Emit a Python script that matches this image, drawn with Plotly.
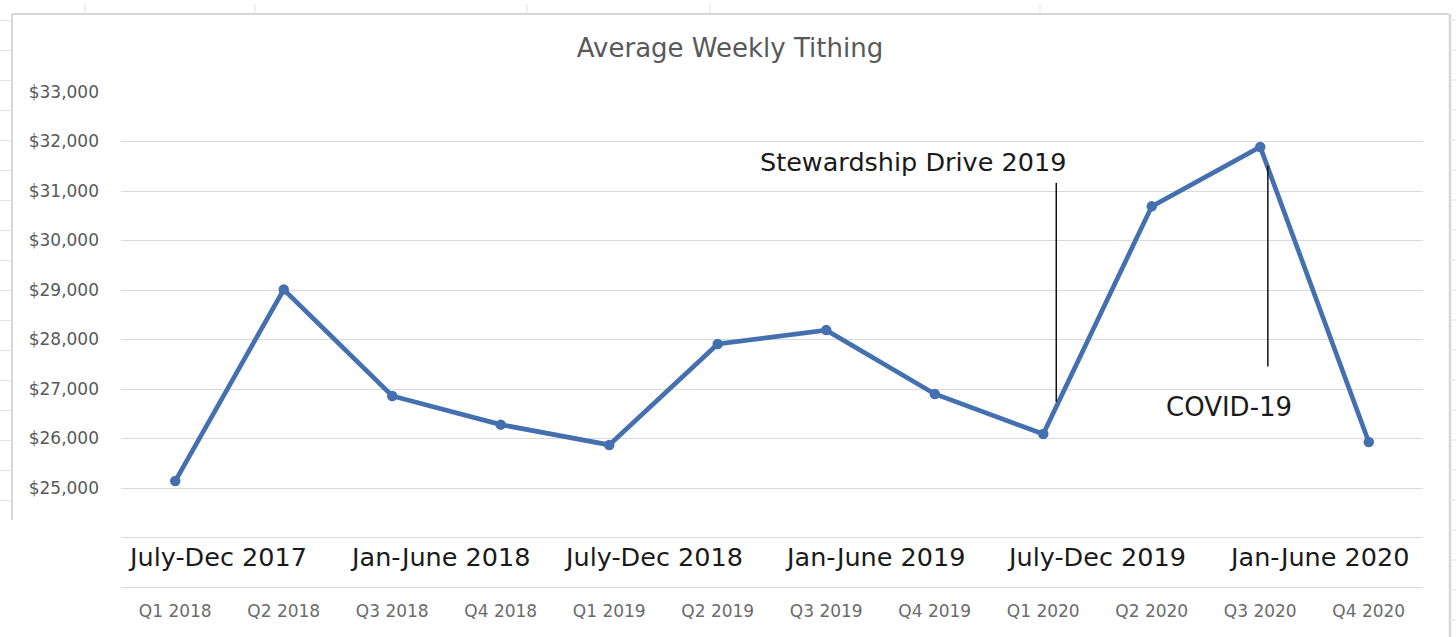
import plotly.graph_objects as go

# ---- data ----
quarters = ["Q1 2018", "Q2 2018", "Q3 2018", "Q4 2018", "Q1 2019", "Q2 2019",
            "Q3 2019", "Q4 2019", "Q1 2020", "Q2 2020", "Q3 2020", "Q4 2020"]
tithing = [25140, 29010, 26860, 26280, 25870, 27910,
           28190, 26900, 26090, 30690, 31890, 25930]
half_labels = ["July-Dec 2017", "Jan-June 2018", "July-Dec 2018",
               "Jan-June 2019", "July-Dec 2019", "Jan-June 2020"]
y_ticks = [24000, 25000, 26000, 27000, 28000, 29000, 30000, 31000, 32000, 33000]
y_ticktext = [""] + ["${:,}".format(v) for v in y_ticks[1:]]

# ---- layout helpers (positions) ----
L, R, T, B = 121, 1423, 92, 587
W, H = 1456, 637
def px(x):
    return (x - L) / (R - L)
def py(y):
    return (B - y) / (B - T)

half_label_x = [0.39, 2.44, 4.41, 6.45, 8.49, 10.54]

FONT = "DejaVu Sans, sans-serif"
LINE_COLOR = "#4570B0"

fig = go.Figure()
fig.add_trace(go.Scatter(
    x=quarters, y=tithing, mode="lines+markers",
    line=dict(color=LINE_COLOR, width=4.7),
    marker=dict(color=LINE_COLOR, size=10.5),
    hoverinfo="x+y", showlegend=False,
))

GRID = "#d9d9d9"
fig.update_layout(
    width=W, height=H,
    margin=dict(l=L, r=W - R, t=T, b=H - B),
    paper_bgcolor="white", plot_bgcolor="white",
    font=dict(family=FONT, color="#595959"),
    title=dict(text="Average Weekly Tithing", x=(730) / W, xanchor="center",
               y=1 - 48 / H, yanchor="middle",
               font=dict(size=26, color="#595959", family=FONT)),
    xaxis=dict(type="category", range=[-0.5, 11.5], showgrid=False,
               showline=True, linecolor=GRID, linewidth=1.3, ticks="",
               tickfont=dict(size=17, color="#6b6b6b"), ticklabelstandoff=8,
               zeroline=False, fixedrange=True),
    yaxis=dict(range=[23000, 33000], tickvals=y_ticks, ticktext=y_ticktext,
               showgrid=True, gridcolor=GRID, gridwidth=1.3, zeroline=False,
               showline=False, ticks="", ticklabelstandoff=21,
               tickfont=dict(size=17, color="#595959"), fixedrange=True),
)

# big half-year labels
for lbl, xv in zip(half_labels, half_label_x):
    fig.add_annotation(x=xv, y=23605, xref="x", yref="y", text=lbl,
                       showarrow=False, xanchor="center", yanchor="middle",
                       font=dict(size=25.5, color="#1a1a1a", family=FONT))

# event annotations
fig.add_annotation(x=6.80, y=31590, xref="x", yref="y", text="Stewardship Drive 2019",
                   showarrow=False, xanchor="center", yanchor="middle",
                   font=dict(size=25.5, color="#1a1a1a", family=FONT))
fig.add_shape(type="line", xref="x", yref="y", x0=8.12, x1=8.12, y0=31165, y1=26740,
              line=dict(color="#111111", width=1.5))
fig.add_annotation(x=9.71, y=26630, xref="x", yref="y", text="COVID-19",
                   showarrow=False, xanchor="center", yanchor="middle",
                   font=dict(size=26, color="#1a1a1a", family=FONT))
fig.add_shape(type="line", xref="x", yref="y", x0=10.07, x1=10.07, y0=31510, y1=27455,
              line=dict(color="#111111", width=1.5))

# chart border / spreadsheet remnants
BORDER = "#d6d6d6"
def pline(x0, y0, x1, y1, w=1.5, c=BORDER):
    fig.add_shape(type="line", xref="paper", yref="paper",
                  x0=px(x0), y0=py(y0), x1=px(x1), y1=py(y1),
                  line=dict(color=c, width=w), layer="below")

pline(12, 14, 1449, 14, 2)      # top border
pline(12, 14, 12, 520, 2)       # left border
pline(1450, 14, 1450, 637, 2.5) # right border
for yy in range(20, 520, 30):
    pline(0, yy + 0.5, 12, yy + 0.5, 1, "#e2e2e2")
for yy in range(20, 637, 30):
    pline(1450, yy, 1456, yy, 1, "#e2e2e2")
for xx in [85, 255, 527, 710, 1040]:
    pline(xx, 4, xx, 14, 1, "#e2e2e2")

fig.write_html("out.html", include_plotlyjs=True,
               config={"displayModeBar": False},
               post_script="document.body.style.margin='0';")
